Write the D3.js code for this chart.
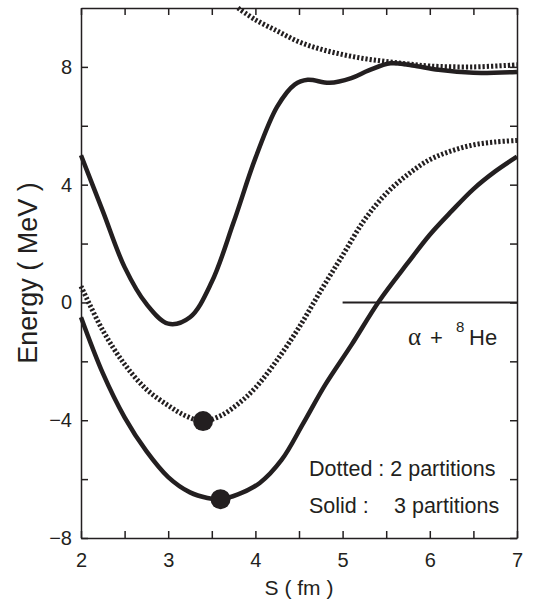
<!DOCTYPE html>
<html>
<head>
<meta charset="utf-8">
<script src="https://cdn.jsdelivr.net/npm/d3@7"></script>
<style>
  html, body { margin: 0; padding: 0; background: #fff; overflow: hidden; }
  svg { display: block; font-family: "Liberation Sans", Arial, Helvetica, sans-serif; }
</style>
</head>
<body>
<svg id="chart" width="534" height="602" viewBox="0 0 534 602"></svg>
<script>
  /* ---------- DATA ---------- */

  const xTicks = [2, 2.5, 3, 3.5, 4, 4.5, 5, 5.5, 6, 6.5, 7];
  const xTickLabels = ["2", "", "3", "", "4", "", "5", "", "6", "", "7"];
  const yTicks = [-8, -6, -4, -2, 0, 2, 4, 6, 8];
  const yTickLabels = ["\u22128", "", "\u22124", "", "0", "", "4", "", "8"];

  // solid = 3 partitions, dotted = 2 partitions
  const upperSolidS = [2.0, 2.25, 2.5, 2.75, 3.0, 3.25, 3.5, 3.75, 4.0, 4.25, 4.45, 4.6, 4.85, 5.1, 5.3, 5.55, 5.8, 6.1, 6.5, 7.0];
  const upperSolidE = [5.0, 3.1, 1.2, -0.05, -0.72, -0.5, 0.7, 2.72, 4.9, 6.65, 7.4, 7.56, 7.46, 7.62, 7.88, 8.12, 8.05, 7.9, 7.8, 7.83];

  // enters the frame at the top edge
  const upperDottedS = [3.8, 4.0, 4.25, 4.5, 4.75, 5.0, 5.25, 5.5, 5.75, 6.0, 6.5, 7.0];
  const upperDottedE = [10.0, 9.6, 9.22, 8.85, 8.6, 8.42, 8.28, 8.18, 8.1, 8.03, 8.0, 8.07];

  const lowerSolidS = [2.0, 2.25, 2.5, 2.75, 3.0, 3.25, 3.45, 3.6, 3.8, 4.05, 4.3, 4.55, 4.8, 5.1, 5.42, 5.75, 6.0, 6.25, 6.5, 6.75, 7.0];
  const lowerSolidE = [-0.5, -2.4, -3.9, -5.05, -5.93, -6.45, -6.64, -6.68, -6.52, -6.13, -5.35, -4.1, -2.8, -1.45, 0.05, 1.35, 2.3, 3.1, 3.85, 4.45, 4.95];

  const lowerDottedS = [2.0, 2.25, 2.5, 2.75, 3.0, 3.2, 3.4, 3.6, 3.8, 4.0, 4.25, 4.5, 4.75, 5.0, 5.25, 5.5, 5.75, 6.0, 6.25, 6.5, 6.75, 7.0];
  const lowerDottedE = [0.55, -0.95, -2.1, -2.95, -3.5, -3.85, -4.03, -3.85, -3.45, -2.9, -1.95, -0.85, 0.4, 1.6, 2.8, 3.7, 4.35, 4.85, 5.15, 5.35, 5.45, 5.5];

  const minimaS = [3.4, 3.6];
  const minimaE = [-4.03, -6.68];

  const thresholdS = [5, 7];
  const thresholdE = [0, 0];

  /* ---------- LAYOUT ---------- */

  const width = 534;
  const height = 602;
  const margin = { top: 8, right: 17, bottom: 64, left: 81 };
  const innerWidth = width - margin.left - margin.right;
  const innerHeight = height - margin.top - margin.bottom;
  const INK = "#231f20";

  const svg = d3.select("#chart");
  const g = svg.append("g")
    .attr("transform", `translate(${margin.left},${margin.top})`);

  const x = d3.scaleLinear().domain([2, 7]).range([0, innerWidth]);
  const y = d3.scaleLinear().domain([-8, 10]).range([innerHeight, 0]);

  const zip = (s, e) => s.map((v, i) => [v, e[i]]);

  const line = d3.line()
    .x(d => x(d[0]))
    .y(d => y(d[1]))
    .curve(d3.curveCatmullRom.alpha(0.5));

  /* ---------- CURVES ---------- */

  const plot = g.append("g");

  const curves = [
    { pts: zip(upperSolidS, upperSolidE), dotted: false },
    { pts: zip(upperDottedS, upperDottedE), dotted: true },
    { pts: zip(lowerSolidS, lowerSolidE), dotted: false },
    { pts: zip(lowerDottedS, lowerDottedE), dotted: true }
  ];

  plot.selectAll("path.curve")
    .data(curves)
    .join("path")
    .attr("class", "curve")
    .attr("d", d => line(d.pts))
    .attr("fill", "none")
    .attr("stroke", INK)
    .attr("stroke-width", d => d.dotted ? 5 : 4.5)
    .attr("stroke-dasharray", d => d.dotted ? "2.2,2" : null);

  // alpha + 8He threshold
  plot.append("path")
    .attr("d", d3.line().x(d => x(d[0])).y(d => y(d[1]))(zip(thresholdS, thresholdE)))
    .attr("stroke", INK)
    .attr("stroke-width", 2);

  plot.selectAll("circle")
    .data(zip(minimaS, minimaE))
    .join("circle")
    .attr("cx", d => x(d[0]))
    .attr("cy", d => y(d[1]))
    .attr("r", 10)
    .attr("fill", INK);

  /* ---------- AXES ---------- */

  function styleAxis(sel) {
    sel.attr("font-family", null).attr("font-size", 20);
    sel.selectAll("path, line").attr("stroke", INK).attr("stroke-width", 1.5);
    sel.selectAll("text").attr("fill", INK);
    sel.selectAll("text").filter(function () { return this.textContent === ""; }).remove();
  }

  g.append("g")
    .attr("transform", `translate(0,${innerHeight})`)
    .call(d3.axisBottom(x).tickValues(xTicks).tickFormat((d, i) => xTickLabels[i])
      .tickSizeInner(-7).tickSizeOuter(0).tickPadding(15))
    .call(styleAxis);

  g.append("g")
    .call(d3.axisTop(x).tickValues(xTicks).tickFormat("")
      .tickSizeInner(-7).tickSizeOuter(0))
    .call(styleAxis);

  g.append("g")
    .call(d3.axisLeft(y).tickValues(yTicks).tickFormat((d, i) => yTickLabels[i])
      .tickSizeInner(-7).tickSizeOuter(0).tickPadding(9))
    .call(styleAxis);

  g.append("g")
    .attr("transform", `translate(${innerWidth},0)`)
    .call(d3.axisRight(y).tickValues(yTicks).tickFormat("")
      .tickSizeInner(-7).tickSizeOuter(0))
    .call(styleAxis);

  /* ---------- LABELS ---------- */

  g.append("text")
    .attr("x", innerWidth / 2)
    .attr("y", innerHeight + 57)
    .attr("text-anchor", "middle")
    .attr("font-size", 21)
    .attr("fill", INK)
    .text("S ( fm )");

  g.append("text")
    .attr("transform", `translate(-44,${innerHeight / 2}) rotate(-90)`)
    .attr("text-anchor", "middle")
    .attr("font-size", 27)
    .attr("fill", INK)
    .text("Energy ( MeV )");

  const chan = g.append("text")
    .attr("y", y(-1.44))
    .attr("font-size", 22)
    .attr("fill", INK);
  chan.append("tspan").attr("x", 327).attr("font-family", "Liberation Serif, serif").attr("font-size", 25).text("\u03b1");
  chan.append("tspan").attr("x", 349).text("+");
  chan.append("tspan").attr("x", 375).attr("dy", -13).attr("font-size", 15).text("8");
  chan.append("tspan").attr("x", 388).attr("dy", 13).text("He");

  const legend = g.append("g").attr("font-size", 21.5).attr("fill", INK);
  legend.append("text")
    .attr("x", 228).attr("y", y(-5.9))
    .text("Dotted : 2 partitions");
  legend.append("text")
    .attr("x", 228).attr("y", y(-7.15))
    .text("Solid :");
  legend.append("text")
    .attr("x", 313).attr("y", y(-7.15))
    .text("3 partitions");
</script>
</body>
</html>
